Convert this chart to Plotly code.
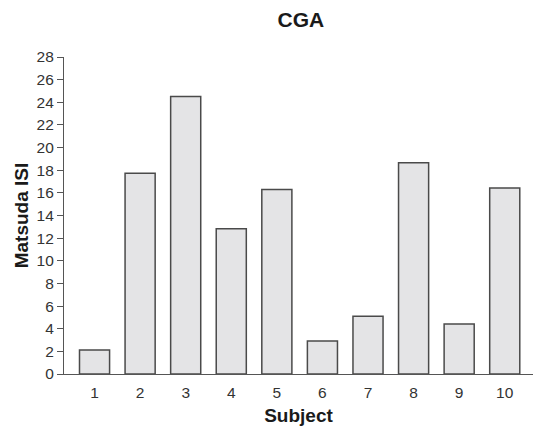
import plotly.graph_objects as go

subjects = ["1", "2", "3", "4", "5", "6", "7", "8", "9", "10"]
matsuda_isi = [2.12, 17.74, 24.52, 12.82, 16.3, 2.92, 5.1, 18.66, 4.42, 16.42]
y_ticks = list(range(0, 29, 2))

fig = go.Figure()
fig.add_trace(go.Bar(
    x=list(range(1, 11)),
    y=matsuda_isi,
    width=0.66,
    marker=dict(color="#e4e4e6", line=dict(color="#4a4a4a", width=1.5)),
))

fig.update_layout(
    width=535, height=428,
    margin=dict(l=64, r=2, t=57, b=54),
    paper_bgcolor="white", plot_bgcolor="white",
    showlegend=False,
    font=dict(family="Arial, Liberation Sans, sans-serif", color="#333333", size=16),
    title=dict(text="<b>CGA</b>", x=0.505, xref="paper", y=0.955, yref="container",
               xanchor="center", yanchor="middle",
               font=dict(size=21, color="#1a1a1a")),
)
fig.update_xaxes(
    range=[0.33, 10.62],
    tickmode="array", tickvals=list(range(1, 11)), ticktext=subjects,
    ticks="outside", ticklen=4, tickcolor="rgba(0,0,0,0)",
    showline=True, linecolor="#555555", linewidth=1.2,
    showgrid=False, zeroline=False,
    tickfont=dict(size=15.5),
    title=dict(text="<b>Subject</b>", font=dict(size=19, color="#1a1a1a"), standoff=8),
)
fig.update_yaxes(
    range=[0, 28],
    tickmode="array", tickvals=y_ticks,
    ticks="outside", ticklen=6, tickcolor="#555555", tickwidth=1,
    showline=True, linecolor="#555555", linewidth=1.2,
    showgrid=False, zeroline=False,
    tickfont=dict(size=15.5),
    title=dict(text="<b>Matsuda ISI</b>", font=dict(size=19, color="#1a1a1a"), standoff=2),
)

fig.write_html("out.html")
